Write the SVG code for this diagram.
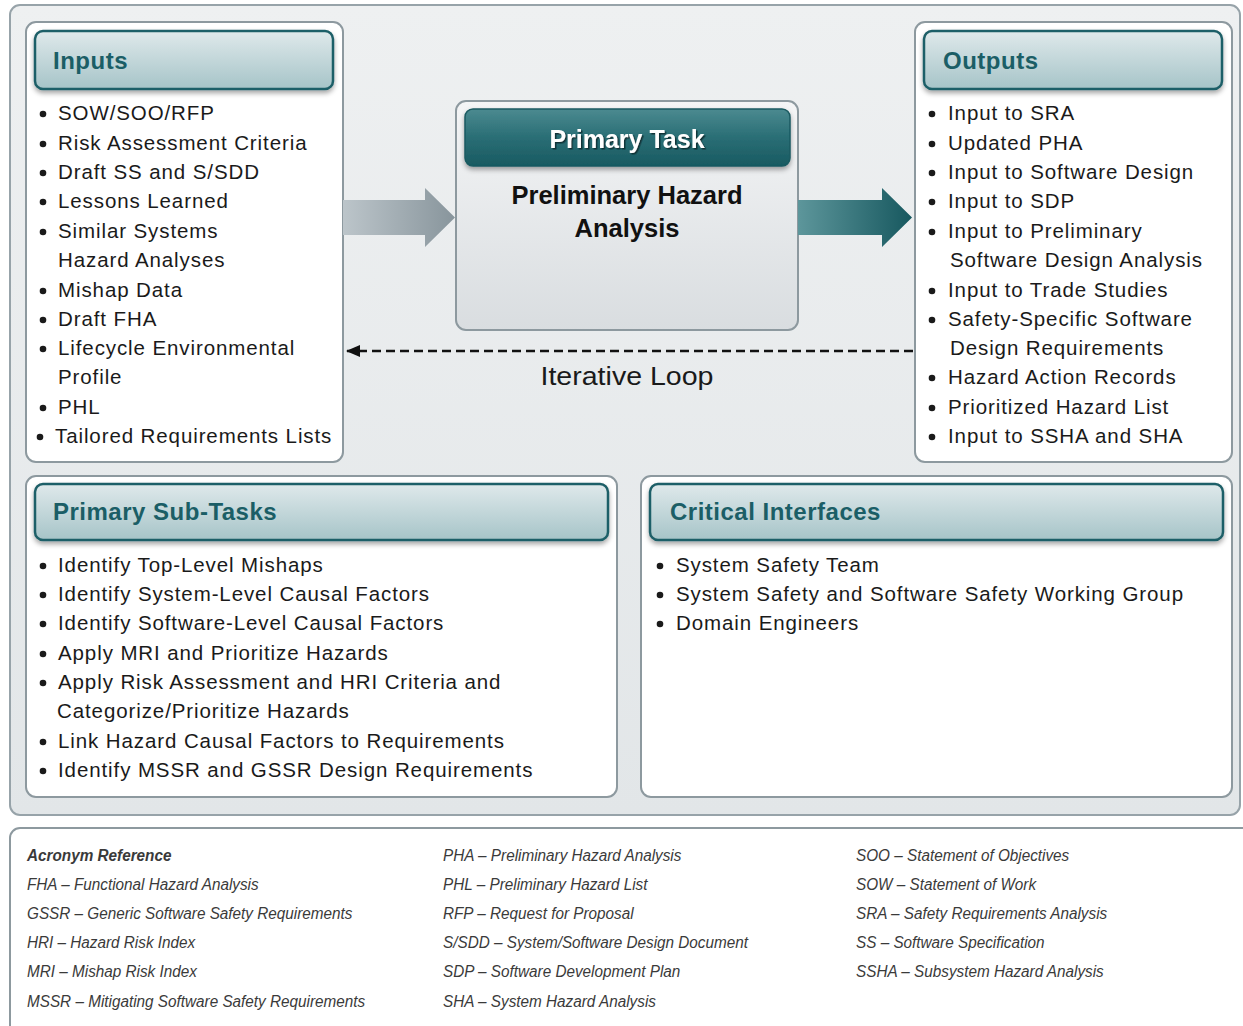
<svg xmlns="http://www.w3.org/2000/svg" width="1243" height="1026" viewBox="0 0 1243 1026">
<defs>
<linearGradient id="gOuter" x1="0" y1="0" x2="0" y2="1"><stop offset="0" stop-color="#eef0f1"/><stop offset="1" stop-color="#e2e6e8"/></linearGradient>
<linearGradient id="gHead" x1="0" y1="0" x2="0" y2="1"><stop offset="0" stop-color="#dfe9eb"/><stop offset="1" stop-color="#a6c4c8"/></linearGradient>
<linearGradient id="gTask" x1="0" y1="0" x2="0" y2="1"><stop offset="0" stop-color="#f4f5f6"/><stop offset="1" stop-color="#d9dde0"/></linearGradient>
<linearGradient id="gTaskHead" x1="0" y1="0" x2="0" y2="1"><stop offset="0" stop-color="#4b8a90"/><stop offset="0.5" stop-color="#2a6e75"/><stop offset="1" stop-color="#185a61"/></linearGradient>
<linearGradient id="gGrey" x1="0" y1="0" x2="1" y2="0"><stop offset="0" stop-color="#bcc5ca"/><stop offset="1" stop-color="#88959c"/></linearGradient>
<linearGradient id="gTeal" x1="0" y1="0" x2="1" y2="0"><stop offset="0" stop-color="#5d969b"/><stop offset="1" stop-color="#17585f"/></linearGradient>
<filter id="sh" x="-5%" y="-20%" width="110%" height="150%"><feDropShadow dx="0" dy="3" stdDeviation="2.5" flood-color="#000" flood-opacity="0.35"/></filter>
<filter id="tsh" x="-5%" y="-20%" width="110%" height="150%"><feDropShadow dx="1.5" dy="1.5" stdDeviation="0.6" flood-color="#0b2e33" flood-opacity="0.9"/></filter>
<marker id="ah" viewBox="0 0 14 12" refX="13" refY="6" markerWidth="14" markerHeight="12" markerUnits="userSpaceOnUse" orient="auto"><path d="M0,0 L14,6 L0,12 Z" fill="#111"/></marker>
<style>
.panel{fill:#fff;stroke:#8d999f;stroke-width:2}
.head{fill:url(#gHead);stroke:#1f5f67;stroke-width:2.5;filter:url(#sh)}
.title{font-family:"Liberation Sans",Arial,sans-serif;font-weight:bold;font-size:24px;letter-spacing:0.5px;fill:#1b5e66}
.b{font-family:"Liberation Sans",Arial,sans-serif;font-size:20.5px;letter-spacing:0.9px;fill:#1a1a1a}
.d{fill:#1a1a1a}
.ac{font-family:"Liberation Sans",Arial,sans-serif;font-style:italic;font-size:17px;fill:#3a3a3a}
</style>
</defs>

<rect x="10" y="5" width="1230" height="810" rx="10" fill="url(#gOuter)" stroke="#97a3a9" stroke-width="2"/>

<g id="inputs">
<rect class="panel" x="26" y="22" width="317" height="440" rx="10"/>
<rect class="head" x="35" y="31" width="298" height="58" rx="8"/>
<text class="title" x="53" y="69">Inputs</text>
<g class="d">
<circle cx="43" cy="114" r="3.3"/><circle cx="43" cy="144" r="3.3"/><circle cx="43" cy="173" r="3.3"/><circle cx="43" cy="202" r="3.3"/><circle cx="43" cy="232" r="3.3"/><circle cx="43" cy="291" r="3.3"/><circle cx="43" cy="320" r="3.3"/><circle cx="43" cy="349" r="3.3"/><circle cx="43" cy="408" r="3.3"/><circle cx="40" cy="437" r="3.3"/>
</g>
<g class="b">
<text x="58" y="120">SOW/SOO/RFP</text>
<text x="58" y="150">Risk Assessment Criteria</text>
<text x="58" y="179">Draft SS and S/SDD</text>
<text x="58" y="208">Lessons Learned</text>
<text x="58" y="238">Similar Systems</text>
<text x="58" y="267">Hazard Analyses</text>
<text x="58" y="297">Mishap Data</text>
<text x="58" y="326">Draft FHA</text>
<text x="58" y="355">Lifecycle Environmental</text>
<text x="58" y="384">Profile</text>
<text x="58" y="414">PHL</text>
<text x="55" y="443">Tailored Requirements Lists</text>
</g>
</g>

<g id="primary-task">
<rect x="456" y="101" width="342" height="229" rx="10" fill="url(#gTask)" stroke="#8d999f" stroke-width="2"/>
<rect x="465" y="109" width="325" height="57" rx="8" fill="url(#gTaskHead)" stroke="#1a5a61" stroke-width="1.5" filter="url(#sh)"/>
<text x="627" y="148" text-anchor="middle" font-family="'Liberation Sans',Arial,sans-serif" font-weight="bold" font-size="25" fill="#fff" filter="url(#tsh)">Primary Task</text>
<text x="627" y="204" text-anchor="middle" font-family="'Liberation Sans',Arial,sans-serif" font-weight="bold" font-size="25.5" fill="#111">Preliminary Hazard</text>
<text x="627" y="237" text-anchor="middle" font-family="'Liberation Sans',Arial,sans-serif" font-weight="bold" font-size="25.5" fill="#111">Analysis</text>
</g>

<g id="outputs">
<rect class="panel" x="915" y="22" width="317" height="440" rx="10"/>
<rect class="head" x="924" y="31" width="298" height="58" rx="8"/>
<text class="title" x="943" y="69">Outputs</text>
<g class="d">
<circle cx="932" cy="114" r="3.3"/><circle cx="932" cy="144" r="3.3"/><circle cx="932" cy="173" r="3.3"/><circle cx="932" cy="202" r="3.3"/><circle cx="932" cy="232" r="3.3"/><circle cx="932" cy="291" r="3.3"/><circle cx="932" cy="320" r="3.3"/><circle cx="932" cy="378" r="3.3"/><circle cx="932" cy="408" r="3.3"/><circle cx="932" cy="437" r="3.3"/>
</g>
<g class="b">
<text x="948" y="120">Input to SRA</text>
<text x="948" y="150">Updated PHA</text>
<text x="948" y="179">Input to Software Design</text>
<text x="948" y="208">Input to SDP</text>
<text x="948" y="238">Input to Preliminary</text>
<text x="950" y="267">Software Design Analysis</text>
<text x="948" y="297">Input to Trade Studies</text>
<text x="948" y="326">Safety-Specific Software</text>
<text x="950" y="355">Design Requirements</text>
<text x="948" y="384">Hazard Action Records</text>
<text x="948" y="414">Prioritized Hazard List</text>
<text x="948" y="443">Input to SSHA and SHA</text>
</g>
</g>

<g id="sub-tasks">
<rect class="panel" x="26" y="476" width="591" height="321" rx="10"/>
<rect class="head" x="35" y="484" width="573" height="56" rx="8"/>
<text class="title" x="53" y="520">Primary Sub-Tasks</text>
<g class="d">
<circle cx="43" cy="566" r="3.3"/><circle cx="43" cy="595" r="3.3"/><circle cx="43" cy="624" r="3.3"/><circle cx="43" cy="654" r="3.3"/><circle cx="43" cy="683" r="3.3"/><circle cx="43" cy="742" r="3.3"/><circle cx="43" cy="771" r="3.3"/>
</g>
<g class="b">
<text x="58" y="572">Identify Top-Level Mishaps</text>
<text x="58" y="601">Identify System-Level Causal Factors</text>
<text x="58" y="630">Identify Software-Level Causal Factors</text>
<text x="58" y="660">Apply MRI and Prioritize Hazards</text>
<text x="58" y="689">Apply Risk Assessment and HRI Criteria and</text>
<text x="57" y="718">Categorize/Prioritize Hazards</text>
<text x="58" y="748">Link Hazard Causal Factors to Requirements</text>
<text x="58" y="777">Identify MSSR and GSSR Design Requirements</text>
</g>
</g>

<g id="critical-interfaces">
<rect class="panel" x="641" y="476" width="591" height="321" rx="10"/>
<rect class="head" x="650" y="484" width="573" height="56" rx="8"/>
<text class="title" x="670" y="520">Critical Interfaces</text>
<g class="d">
<circle cx="660" cy="566" r="3.3"/><circle cx="660" cy="595" r="3.3"/><circle cx="660" cy="624" r="3.3"/>
</g>
<g class="b">
<text x="676" y="572">System Safety Team</text>
<text x="676" y="601">System Safety and Software Safety Working Group</text>
<text x="676" y="630">Domain Engineers</text>
</g>
</g>

<g id="connectors">
<path d="M343,200 H425 V188 L455,217.5 L425,247 V235 H343 Z" fill="url(#gGrey)"/>
<path d="M798,200 H882 V188 L912,217.5 L882,247 V235 H798 Z" fill="url(#gTeal)"/>
<line x1="913" y1="351" x2="347" y2="351" stroke="#111" stroke-width="2.4" stroke-dasharray="9,5" marker-end="url(#ah)"/>
<text x="627" y="385" text-anchor="middle" font-family="'Liberation Sans',Arial,sans-serif" font-size="25" fill="#1a1a1a" textLength="173" lengthAdjust="spacingAndGlyphs">Iterative Loop</text>
</g>

<g id="acronyms">
<rect x="10" y="828" width="1245" height="210" rx="10" fill="#fff" stroke="#8d999f" stroke-width="2"/>
<g transform="translate(27,0) scale(0.9,1)">
<text class="ac" x="0" y="861" font-weight="bold" fill="#111">Acronym Reference</text>
<text class="ac" x="0" y="890">FHA – Functional Hazard Analysis</text>
<text class="ac" x="0" y="919">GSSR – Generic Software Safety Requirements</text>
<text class="ac" x="0" y="948">HRI – Hazard Risk Index</text>
<text class="ac" x="0" y="977">MRI – Mishap Risk Index</text>
<text class="ac" x="0" y="1007">MSSR – Mitigating Software Safety Requirements</text>
</g>
<g transform="translate(443,0) scale(0.9,1)">
<text class="ac" x="0" y="861">PHA – Preliminary Hazard Analysis</text>
<text class="ac" x="0" y="890">PHL – Preliminary Hazard List</text>
<text class="ac" x="0" y="919">RFP – Request for Proposal</text>
<text class="ac" x="0" y="948">S/SDD – System/Software Design Document</text>
<text class="ac" x="0" y="977">SDP – Software Development Plan</text>
<text class="ac" x="0" y="1007">SHA – System Hazard Analysis</text>
</g>
<g transform="translate(856,0) scale(0.9,1)">
<text class="ac" x="0" y="861">SOO – Statement of Objectives</text>
<text class="ac" x="0" y="890">SOW – Statement of Work</text>
<text class="ac" x="0" y="919">SRA – Safety Requirements Analysis</text>
<text class="ac" x="0" y="948">SS – Software Specification</text>
<text class="ac" x="0" y="977">SSHA – Subsystem Hazard Analysis</text>
</g>
</g>
</svg>
